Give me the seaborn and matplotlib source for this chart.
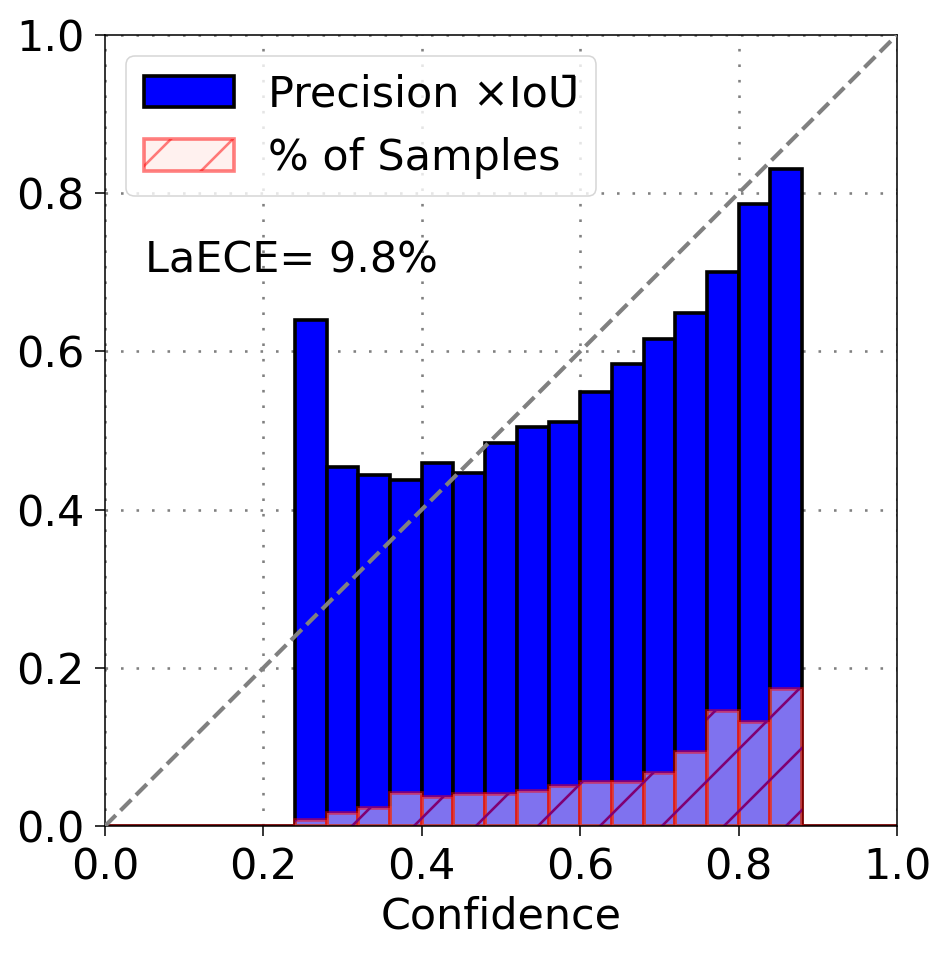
import numpy as np
import pandas as pd
import matplotlib
matplotlib.use("Agg")
import matplotlib.pyplot as plt
import matplotlib.patches as mpatches
import seaborn as sns

# ---- data ----
bin_edges = [round(i * 0.04, 2) for i in range(26)]
precision_iou = [0, 0, 0, 0, 0, 0,
                 0.640, 0.454, 0.444, 0.437, 0.459, 0.446, 0.484, 0.504,
                 0.511, 0.549, 0.584, 0.616, 0.649, 0.700, 0.786, 0.831,
                 0, 0, 0]
pct_samples = [0, 0, 0, 0, 0, 0,
               0.007, 0.017, 0.023, 0.042, 0.037, 0.041, 0.041, 0.044,
               0.050, 0.056, 0.055, 0.067, 0.093, 0.145, 0.131, 0.173,
               0, 0, 0]
ticks = [0.0, 0.2, 0.4, 0.6, 0.8, 1.0]
tick_labels = ["0.0", "0.2", "0.4", "0.6", "0.8", "1.0"]
laece_text = "LaECE= 9.8%"
label_prec = "Precision \u00d7IoU\u0304"
label_samp = "% of Samples"

DPI = 372
FS = 8.3
sns.set_style("white")
plt.rcParams["font.family"] = ["DejaVu Sans"]
plt.rcParams["hatch.linewidth"] = 0.5
plt.rcParams["text.color"] = "black"
plt.rcParams["axes.labelcolor"] = "black"

centers = [(bin_edges[i] + bin_edges[i + 1]) / 2 for i in range(len(bin_edges) - 1)]
df = pd.DataFrame({"conf": centers, "prec": precision_iou, "samp": pct_samples})

fig = plt.figure(figsize=(951 / DPI, 958 / DPI), dpi=DPI)
ax = fig.add_axes([0.1104, 0.1378, 0.8328, 0.8257])

sns.histplot(data=df, x="conf", weights="prec", bins=bin_edges, ax=ax,
             color="blue", alpha=1.0, edgecolor="black", linewidth=0.7)
sns.histplot(data=df, x="conf", weights="samp", bins=bin_edges, ax=ax,
             color="mistyrose", alpha=0.5, edgecolor=(1, 0, 0, 0.5), linewidth=0.7)
# hatch overlay (as rendered in the reference: purple lines over the bars)
sns.histplot(data=df, x="conf", weights="samp", bins=bin_edges, ax=ax,
             fill=True, alpha=0.0, facecolor="none", edgecolor=(0.5, 0.0, 0.45, 1.0),
             linewidth=0, hatch="//")

ax.plot([0, 1], [0, 1], linestyle="--", color="gray", linewidth=0.8, zorder=3)

ax.set_xlim(0, 1)
ax.set_ylim(0, 1)
ax.set_xticks(ticks)
ax.set_xticklabels(tick_labels)
ax.set_yticks(ticks)
ax.set_yticklabels(tick_labels)
ax.set_axisbelow(True)
ax.grid(True, color="gray", linestyle=(0, (1, 5)), linewidth=0.5)
for s in ax.spines.values():
    s.set_visible(True)
    s.set_color("black")
    s.set_linewidth(0.3)
ax.tick_params(axis="both", which="major", direction="out", length=1.9, width=0.3,
               labelsize=FS, pad=2, bottom=True, left=True, colors="black")
ax.set_xlabel("Confidence", fontsize=FS, labelpad=1.5, color="black")
ax.set_ylabel("")
ax.text(0.05, 0.70, laece_text, fontsize=FS, color="black")

h_prec = mpatches.Patch(facecolor="blue", edgecolor="black", linewidth=0.7)
h_samp = mpatches.Patch(facecolor=(1.0, 0.894, 0.882, 0.5), edgecolor=(1, 0, 0, 0.5),
                        linewidth=0.7, hatch="//")
leg = ax.legend([h_prec, h_samp], [label_prec, label_samp], loc="upper left",
                fontsize=FS, handlelength=2.1, handleheight=0.75)
leg.get_frame().set_linewidth(0.3)

fig.savefig("out.png", dpi=DPI)
